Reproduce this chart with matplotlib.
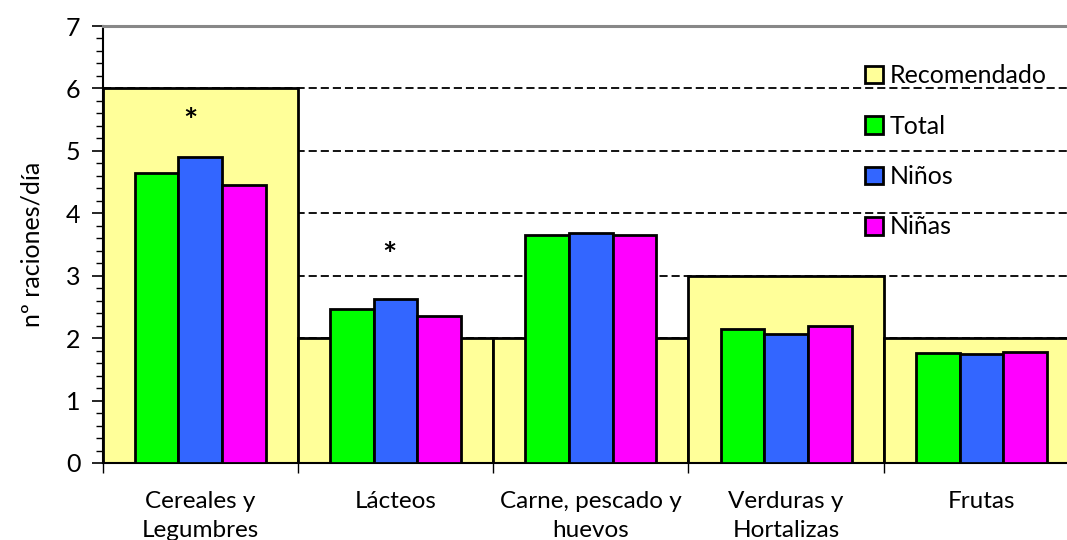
import matplotlib
matplotlib.use("Agg")
import matplotlib.pyplot as plt
from matplotlib.patches import Patch
from matplotlib.ticker import MultipleLocator
import numpy as np

categorias = ["Cereales y\nLegumbres", "Lácteos", "Carne, pescado y\nhuevos",
              "Verduras y\nHortalizas", "Frutas"]
recomendado = [6, 2, 2, 3, 2]
total = [4.65, 2.47, 3.66, 2.14, 1.76]
ninos = [4.90, 2.62, 3.68, 2.06, 1.74]
ninas = [4.45, 2.35, 3.66, 2.20, 1.78]
series = ["Recomendado", "Total", "Niños", "Niñas"]
# asterisks marking significant differences
ast_x = [-0.05, -0.03]
ast_idx = [0, 1]
ast_y = [5.45, 3.3]

plt.rcParams["font.family"] = ["Lato", "DejaVu Sans"]

fig = plt.figure(figsize=(10.67, 5.4), dpi=100)
ax = fig.add_axes([102.7 / 1067, 77 / 540, (1079 - 102.7) / 1067, 437 / 540])

x = np.arange(len(categorias))
w = 0.224
ec = "black"
lw = 2

ax.bar(x, recomendado, width=1.0, color="#FFFF99", edgecolor=ec, linewidth=lw, zorder=2)
ax.bar(x - w, total, width=w, color="#00FF00", edgecolor=ec, linewidth=lw, zorder=3)
ax.bar(x, ninos, width=w, color="#3366FF", edgecolor=ec, linewidth=lw, zorder=3)
ax.bar(x + w, ninas, width=w, color="#FF00FF", edgecolor=ec, linewidth=lw, zorder=3)

for i, dx, yy in zip(ast_idx, ast_x, ast_y):
    ax.text(i + dx, yy, "*", ha="center", va="center", fontsize=24, fontweight="bold", zorder=4)

ax.set_xlim(-0.5, 4.5)
ax.set_ylim(0, 7)

for v in range(1, 7):
    ax.axhline(v, color="black", lw=1.3, ls=(0, (4.5, 2.2)), zorder=1)

ax.set_xticks(x)
ax.set_xticklabels(categorias, fontsize=17.5, linespacing=1.5)
ax.set_xticks(np.arange(-0.5, 5, 1), minor=True)
ax.tick_params(axis="x", which="major", length=0, pad=20)
ax.tick_params(axis="x", which="minor", length=7, width=1, color="black", direction="out")

ax.yaxis.set_major_locator(MultipleLocator(1))
ax.yaxis.set_minor_locator(MultipleLocator(0.2))
ax.tick_params(axis="y", which="major", length=8, width=1.2, labelsize=18, pad=8)
ax.tick_params(axis="y", which="minor", length=5, width=1)

ax.set_ylabel("nº raciones/día", fontsize=18, labelpad=16)

ax.spines["right"].set_visible(False)
ax.spines["top"].set_color("#888888")
ax.spines["top"].set_linewidth(2.2)
ax.spines["left"].set_linewidth(1.5)
ax.spines["bottom"].set_linewidth(1.5)

colores = ["#FFFF99", "#00FF00", "#3366FF", "#FF00FF"]
handles = [Patch(facecolor=c, edgecolor="black", linewidth=2) for c in colores]
leg = fig.legend(handles, series, loc="upper left", bbox_to_anchor=(865 / 1067, 1 - 64 / 540),
                 frameon=False, fontsize=18, handlelength=0.7, handleheight=0.7,
                 handletextpad=0.3, labelspacing=1.1, borderpad=0, borderaxespad=0)

fig.savefig("out.png", dpi=100)
